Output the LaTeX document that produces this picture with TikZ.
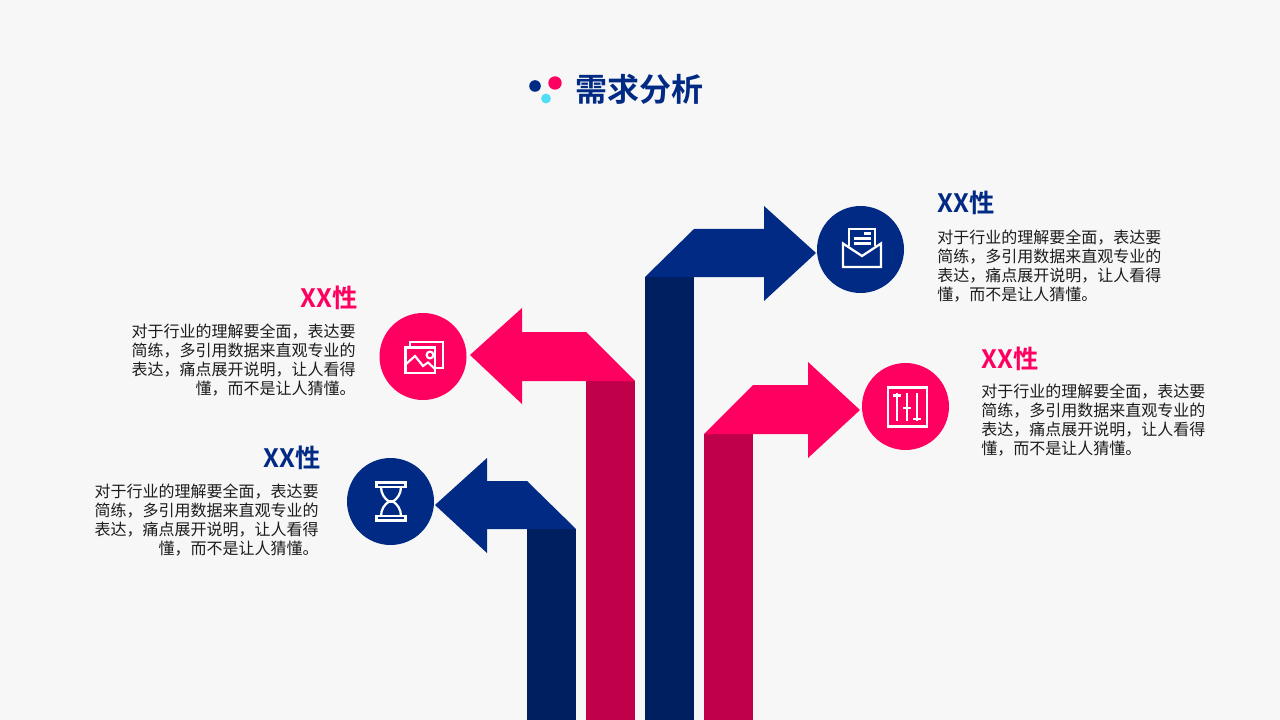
\documentclass[tikz,border=0pt]{standalone}
\usepackage{fontspec}
\setmainfont[BoldFont={Noto Sans CJK SC Bold}]{Noto Sans CJK SC}
\definecolor{bgc}{HTML}{F7F7F7}
\definecolor{navy}{HTML}{002A84}
\definecolor{navyd}{HTML}{001F60}
\definecolor{rosec}{HTML}{FF0060}
\definecolor{rosed}{HTML}{C00048}
\definecolor{cyanc}{HTML}{4FDDF7}
\definecolor{bodyc}{HTML}{1C1C1C}
\tikzset{
  bodytext/.style={inner sep=0pt,text=bodyc,font=\fontsize{12}{14.25}\selectfont},
  bodyL/.style={bodytext,anchor=north west,align=left},
  bodyR/.style={bodytext,anchor=north east,align=right},
  headtext/.style={inner sep=0pt,font=\fontsize{19}{21}\selectfont\bfseries},
  disc/.style={circle,minimum size=65.25pt,inner sep=0pt},
  icon/.style={draw=white,line width=1.7pt,line join=miter,fill=none},
  iconthin/.style={draw=white,line width=1.6pt,fill=none}
}
\newcommand{\bodyA}{对于行业的理解要全面，表达要\\简练，多引用数据来直观专业的\\表达，痛点展开说明，让人看得\\懂，而不是让人猜懂。}
\begin{document}
\begin{tikzpicture}[x=0.75pt,y=-0.75pt]
\useasboundingbox (0,0) rectangle (1280,720);
\fill[bgc] (0,0) rectangle (1280,720);
% title
\fill[navy] (535,86) circle (5.8);
\fill[rosec] (555,83) circle (6.7);
\fill[cyanc] (546,98.5) circle (4.9);
\node[inner sep=0pt,anchor=west,text=navy,font=\fontsize{24}{28}\selectfont\bfseries] (title) at (575,89) {需求分析};
% stems
\fill[navyd] (527,720) rectangle (576,529);
\fill[rosed] (586,720) rectangle (635,381);
\fill[navyd] (645,720) rectangle (694,277);
\fill[rosed] (704,720) rectangle (753,434);
% arrow heads
\fill[navy] (576,529)--(527,481)--(487,481)--(487,458)--(435,505)--(487,553)--(487,529)--cycle;
\fill[rosec] (635,381)--(586,332)--(522,332)--(522,308)--(470,355)--(522,404)--(522,381)--cycle;
\fill[navy] (645,277)--(694,229)--(764,229)--(764,206)--(816,253)--(764,301)--(764,277)--cycle;
\fill[rosec] (704,434)--(753,385)--(808,385)--(808,362)--(860,410)--(808,458)--(808,434)--cycle;
% discs
\node[disc,fill=navy] (d1) at (860.5,249.5) {};
\node[disc,fill=rosec] (d2) at (905.5,406.5) {};
\node[disc,fill=rosec] (d3) at (423,356.5) {};
\node[disc,fill=navy] (d4) at (390.5,501.5) {};
% envelope icon
\draw[icon] (849,246)--(849,229)--(875,229)--(875,246);
\draw[icon] (864,233.5)--(871,233.5);
\draw[icon] (853.5,238.5)--(871,238.5) (853.5,243.5)--(871,243.5);
\draw[icon] (843,243.5)--(843,267)--(881,267)--(881,243.5)--(862,256)--cycle;
% sliders icon
\draw[icon] (888,387.5) rectangle (927,426.5);
\draw[iconthin] (897,393)--(897,421) (893,395.5)--(901,395.5);
\draw[iconthin] (907,393)--(907,421) (903,408)--(911,408);
\draw[iconthin] (917,393)--(917,421) (913,419)--(921,419);
% picture icon
\draw[icon] (405.5,347.5) rectangle (435,373);
\draw[icon] (410,347.5)--(410,342)--(443,342)--(443,368)--(435,368);
\draw[iconthin] (430,355) circle (3.4);
\draw[iconthin] (405.5,364.5)--(415,356)--(423,366)--(428,362.5)--(435,369);
% hourglass icon
\draw[icon] (376.5,482.5) rectangle (405.5,487);
\draw[icon] (376.5,516) rectangle (405.5,520.5);
\draw[icon] (381,487) .. controls (381,494) and (385,499) .. (389,501.5) .. controls (385,504) and (381,509) .. (381,516);
\draw[icon] (401,487) .. controls (401,494) and (397,499) .. (393,501.5) .. controls (397,504) and (401,509) .. (401,516);
\draw[icon] (389,501.5)--(393,501.5);
% texts
\node[headtext,text=navy,anchor=west] (h1) at (937,203) {XX性};
\node[bodyL] (t1) at (937,229.5) {\bodyA};
\node[headtext,text=rosec,anchor=west] (h2) at (981,359) {XX性};
\node[bodyL] (t2) at (981,383.7) {\bodyA};
\node[headtext,text=rosec,anchor=east] (h3) at (358,298) {XX性};
\node[bodyR] (t3) at (356,323.7) {\bodyA};
\node[headtext,text=navy,anchor=east] (h4) at (321,458) {XX性};
\node[bodyR] (t4) at (319,483.7) {\bodyA};
\end{tikzpicture}
\end{document}
